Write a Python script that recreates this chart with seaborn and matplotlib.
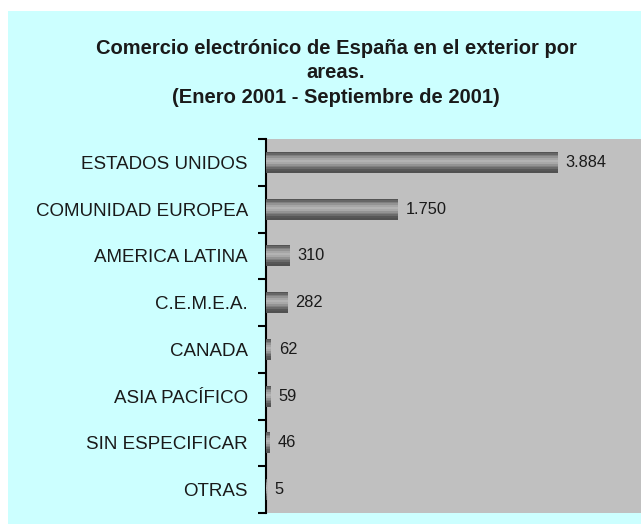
import numpy as np
import pandas as pd
import matplotlib
matplotlib.use("Agg")
import matplotlib.pyplot as plt
from matplotlib.patches import Rectangle
from matplotlib.colors import LinearSegmentedColormap
import seaborn as sns

# Data
areas = ["ESTADOS UNIDOS", "COMUNIDAD EUROPEA", "AMERICA LATINA", "C.E.M.E.A.",
         "CANADA", "ASIA PACÍFICO", "SIN ESPECIFICAR", "OTRAS"]
valores = [3884, 1750, 310, 282, 62, 59, 46, 5]
etiquetas = ["3.884", "1.750", "310", "282", "62", "59", "46", "5"]

df = pd.DataFrame({"area": areas, "valor": valores})

sns.set_theme(style="white")
plt.rcParams["font.family"] = ["Liberation Sans", "DejaVu Sans"]

fig = plt.figure(figsize=(6.41, 5.24), dpi=100)
fig.patch.set_facecolor("white")
# light cyan panel behind everything
fig.patches.append(Rectangle((8 / 641, 0), 1, 1 - 11 / 524, transform=fig.transFigure,
                             facecolor="#ccffff", edgecolor="none", zorder=-10))

ax = fig.add_axes([266 / 641, 1 - 513 / 524, 1 - 266 / 641, (513 - 139) / 524])
ax.set_facecolor("#c0c0c0")

sns.barplot(data=df, x="valor", y="area", orient="h", color="#808080",
            width=0.45, ax=ax, zorder=2)

# cylinder-like gray gradient on each bar
grad = np.array([0.33, 0.40, 0.50, 0.58, 0.65, 0.70, 0.66, 0.58, 0.50, 0.42, 0.34, 0.32])
cmap = LinearSegmentedColormap.from_list("g", ["black", "white"])
for bar in ax.patches:
    x0, y0 = bar.get_x(), bar.get_y()
    w, h = bar.get_width(), bar.get_height()
    if w <= 0:
        continue
    img = ax.imshow(grad.reshape(-1, 1), cmap=cmap, vmin=0, vmax=1, aspect="auto",
                    extent=(x0, x0 + w, y0 + h, y0), interpolation="nearest", zorder=3)
    img.set_clip_path(bar)
    bar.set_edgecolor("none")
ax.set_xlim(0, 5000)
ax.set_ylim(len(areas) - 0.5, -0.5)

for i, (v, t) in enumerate(zip(valores, etiquetas)):
    ax.annotate(t, xy=(v, i), xytext=(6, 0), textcoords="offset points",
                va="center", ha="left", fontsize=11.8, color="#1a1a1a", zorder=4)

for s in ["top", "right", "bottom"]:
    ax.spines[s].set_visible(False)
ax.spines["left"].set_color("black")
ax.spines["left"].set_linewidth(1.5)

ax.set_xticks([])
ax.set_xlabel("")
ax.set_ylabel("")
ax.tick_params(axis="y", which="major", length=0, pad=13, labelsize=13.5, labelcolor="#1a1a1a")
ax.set_yticks(np.arange(len(areas) + 1) - 0.5, minor=True)
ax.tick_params(axis="y", which="minor", length=6, width=1.5, color="black", left=True, direction="out")

fig.text(336 / 641, 1 - 73 / 524,
         "Comercio electrónico de España en el exterior por\nareas.\n(Enero 2001 - Septiembre de 2001)",
         ha="center", va="center", fontsize=14.5, fontweight="bold", linespacing=1.35, color="#1a1a1a")

fig.savefig("out.png", dpi=100)
